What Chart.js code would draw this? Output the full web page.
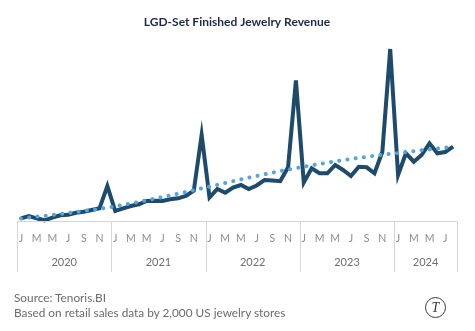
<!DOCTYPE html>
<html>
<head>
<meta charset="utf-8">
<script src="https://cdn.jsdelivr.net/npm/chart.js@4.4.1/dist/chart.umd.min.js"></script>
<style>
  html, body { margin: 0; padding: 0; background: #fff; }
  #wrap { position: relative; width: 475px; height: 331px; overflow: hidden; }
  #note {
    position: absolute; left: 14px; top: 290px;
    font-family: Lato, sans-serif; font-size: 11.8px; line-height: 15px; color: #6b6b6b;
  }
  #logo {
    position: absolute; left: 425px; top: 297px; width: 19px; height: 19px;
    border: 1.4px solid #3a3a3a; border-radius: 50%;
    font-family: "Liberation Serif", serif; font-style: italic; font-size: 14px;
    color: #3a3a3a; text-align: center; line-height: 19px;
  }
</style>
</head>
<body>
<div id="wrap">
  <canvas id="chart" width="475" height="331"></canvas>
  <div id="note">Source: Tenoris.BI<br>Based on retail sales data by 2,000 US jewelry stores</div>
  <div id="logo">T</div>
</div>
<script>
/* ---------- Data (index) ---------- */
const years = ['2020', '2021', '2022', '2023', '2024'];
const monthNames = ['Jan', 'Feb', 'Mar', 'Apr', 'May', 'Jun', 'Jul', 'Aug', 'Sep', 'Oct', 'Nov', 'Dec'];
const monthTicks = ['J', '', 'M', '', 'M', '', 'J', '', 'S', '', 'N', ''];
const monthsIn2024 = 8;

const revenue = [
    6.7, 9.0, 6.7, 4.7, 7.3, 9.7, 10.3, 12.3, 13.3, 15.0, 16.7, 39.0,      // 2020
    14.0, 16.7, 19.0, 20.7, 24.0, 24.3, 24.0, 25.7, 26.7, 29.0, 34.3, 90.0, // 2021
    27.5, 36.0, 32.3, 37.5, 40.0, 36.0, 39.5, 45.0, 44.5, 43.8, 57.7, 144.5, // 2022
    42.5, 56.7, 51.7, 51.7, 60.0, 55.0, 49.0, 58.3, 57.7, 51.7, 73.3, 176.0, // 2023
    50.0, 71.7, 63.3, 70.0, 81.7, 71.7, 73.0, 78.3                           // 2024
];

const trend = [
    6.5, 7.4, 8.3, 9.2, 10.1, 11.0, 12.0, 13.0, 14.0, 15.1, 16.2, 17.3,
    18.7, 20.1, 21.6, 23.1, 24.7, 26.3, 27.9, 29.6, 31.3, 33.0, 34.8, 36.6,
    38.4, 40.2, 42.0, 43.8, 45.6, 47.3, 49.0, 50.7, 52.3, 53.9, 55.4, 56.9,
    58.3, 59.7, 61.0, 62.3, 63.6, 64.8, 66.0, 67.1, 68.2, 69.2, 70.2, 71.1,
    72.0, 72.9, 73.8, 74.7, 75.6, 76.5, 77.4, 78.3
];

/* ---------- Category labels ---------- */
const labels = [];
years.forEach((yr, k) => {
    const n = k === years.length - 1 ? monthsIn2024 : 12;
    for (let m = 0; m < n; m++) labels.push(monthNames[m] + ' ' + yr);
});

/* ---------- Year boxes under the month letters ---------- */
const yearBoxes = {
    id: 'yearBoxes',
    afterDraw(chart) {
        const x = chart.scales.x;
        const ctx = chart.ctx;
        const top = Math.round(chart.chartArea.bottom) + 0.5;
        const bottom = 272;
        const half = (x.getPixelForValue(1) - x.getPixelForValue(0)) / 2;

        ctx.save();
        ctx.strokeStyle = '#d6d6d6';
        ctx.lineWidth = 1;
        ctx.beginPath();
        ctx.moveTo(x.left, top);
        ctx.lineTo(x.right, top);
        ctx.stroke();

        ctx.fillStyle = '#6e6e6e';
        ctx.font = '11px Lato, sans-serif';
        ctx.textAlign = 'center';
        ctx.textBaseline = 'middle';

        let start = 0;
        years.forEach((yr, k) => {
            const n = k === years.length - 1 ? monthsIn2024 : 12;
            const l = x.getPixelForValue(start) - half;
            const r = x.getPixelForValue(start + n - 1) + half;
            [l, r].forEach(px => {
                const p = Math.round(px) + 0.5;
                ctx.beginPath();
                ctx.moveTo(p, top);
                ctx.lineTo(p, bottom);
                ctx.stroke();
            });
            ctx.fillText(yr, (l + r) / 2, 262);
            start += n;
        });
        ctx.restore();
    }
};

/* ---------- Chart ---------- */
new Chart(document.getElementById('chart'), {
    type: 'line',
    data: {
        labels: labels,
        datasets: [
            {
                label: 'Trend',
                data: trend,
                order: 0,
                borderColor: '#52a6dd',
                borderWidth: 4,
                borderDash: [0.1, 8.2],
                borderCapStyle: 'round',
                pointRadius: 0,
                tension: 0,
                clip: false
            },
            {
                label: 'Revenue',
                data: revenue,
                order: 1,
                borderColor: '#1e4b6c',
                borderWidth: 4,
                borderJoinStyle: 'miter',
                pointRadius: 0,
                tension: 0,
                clip: false
            }
        ]
    },
    options: {
        responsive: false,
        animation: false,
        layout: { padding: { left: 17, right: 18, top: 0, bottom: 60 } },
        plugins: {
            legend: { display: false },
            tooltip: { enabled: false },
            title: {
                display: true,
                text: 'LGD-Set Finished Jewelry Revenue',
                color: '#1b2a4a',
                font: { family: 'Lato', size: 12, weight: 'bold' },
                padding: { top: 15, bottom: 10.6 }
            }
        },
        scales: {
            x: {
                offset: true,
                grid: { display: false, drawTicks: false },
                border: { display: false },
                ticks: {
                    autoSkip: false,
                    maxRotation: 0,
                    padding: 11,
                    color: '#8c8c8c',
                    font: { family: 'Lato', size: 10.5 },
                    callback: (v, i) => monthTicks[i % 12]
                },
                afterFit: s => { s.height = 50; }
            },
            y: { display: false, min: 4, max: 185 }
        }
    },
    plugins: [yearBoxes]
});
</script>
</body>
</html>
